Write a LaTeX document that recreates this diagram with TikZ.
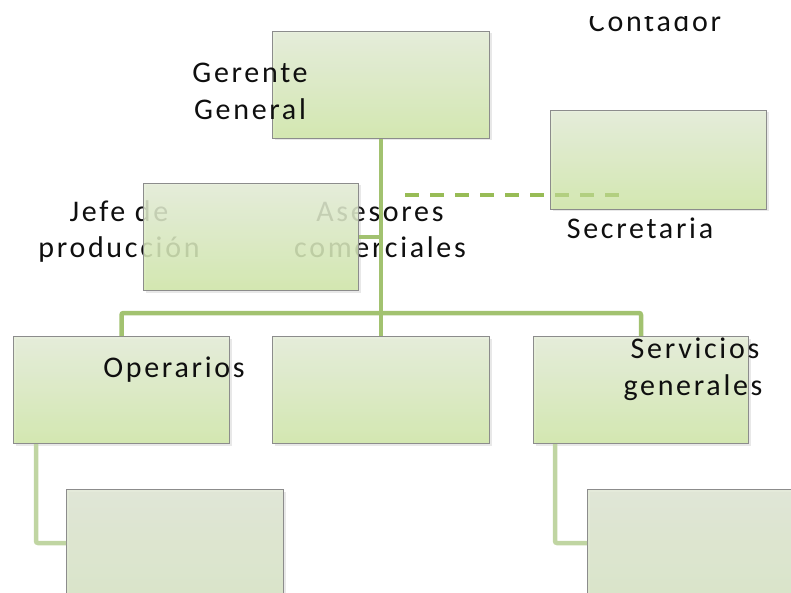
\documentclass[tikz,border=0pt]{standalone}
\usepackage{fontspec}
\setmainfont{Carlito}[LetterSpace=9]
\usetikzlibrary{shadows}

\definecolor{boxtop}{RGB}{228,236,216}
\definecolor{boxbot}{RGB}{208,231,168}
\definecolor{subtop}{RGB}{223,230,212}
\definecolor{subbot}{RGB}{215,227,196}
\definecolor{boxline}{RGB}{140,140,140}
\definecolor{linkgreen}{RGB}{162,194,112}
\definecolor{dashgreen}{RGB}{152,188,86}
\definecolor{sublink}{RGB}{192,213,162}
\definecolor{inktext}{RGB}{15,15,15}

\tikzset{
  orgbox/.style={draw=boxline, line width=1pt, top color=boxtop, bottom color=boxbot,
    fill opacity=0.86, inner sep=0pt, anchor=north west,
    minimum width=216pt, minimum height=107pt,
    drop shadow={opacity=0.18, shadow xshift=2pt, shadow yshift=-2pt}},
  subbox/.style={orgbox, top color=subtop, bottom color=subbot},
  link/.style={draw=linkgreen, line width=4.5pt, rounded corners=2pt},
  sublinkline/.style={draw=sublink, line width=4.5pt, rounded corners=2pt},
  dashlink/.style={draw=dashgreen, line width=4pt, dash pattern=on 14pt off 11pt},
  lbl/.style={font=\fontsize{30pt}{37pt}\selectfont, text=inktext, anchor=base, inner sep=0pt}
}

\begin{document}
\begin{tikzpicture}[x=1pt, y=-1pt]
\useasboundingbox (0,0) rectangle (791,593);

% assistant link (dashed)
\coordinate (dashL) at (405,195);
\coordinate (dashR) at (619,195);
\draw[dashlink] (dashL) -- (dashR);

% labels that sit beneath the translucent box
\node[lbl] (jefe1) at (119,222) {Jefe de};
\node[lbl] (jefe2) at (119,258) {producción};
\node[lbl] (ases1) at (380,222) {Asesores};
\node[lbl] (ases2) at (380,258) {comerciales};

% boxes
\node[orgbox, minimum width=217pt] (gerente) at (272,31) {};
\node[orgbox, minimum height=99pt] (secretaria) at (550,110) {};
\node[orgbox, minimum width=215pt] (jefe) at (143,183) {};
\node[orgbox] (operarios) at (13,336) {};
\node[orgbox, minimum width=217pt] (middle) at (272,336) {};
\node[orgbox, minimum width=215pt] (servicios) at (533,336) {};
\node[subbox, minimum width=217pt] (subleft) at (66,489) {};
\node[subbox, minimum width=217pt] (subright) at (587,489) {};

% dashes show faintly through the assistant box
\draw[dashlink, draw opacity=0.45] (dashL) -- (dashR);

% connectors
\coordinate (bar) at (380,313);
\draw[link] (gerente.south) -- (middle.north);
\draw[link] (jefe.east) -- (jefe.east -| gerente.south);
\draw[link] (operarios.north) |- (bar) -| (servicios.north);
\draw[sublinkline] ([xshift=23pt]operarios.south west) |- (subleft.west);
\draw[sublinkline] ([xshift=22pt]servicios.south west) |- (subright.west);

% labels on top
\begin{scope}
  \clip (0,16.5) rectangle (791,60);
  \node[lbl] (contador) at (655,32) {Contador};
\end{scope}
\node[lbl] (ger1) at (250,83) {Gerente};
\node[lbl] (ger2) at (250,120) {General};
\node[lbl] (secr) at (640,239) {Secretaria};
\node[lbl] (oper) at (174,377) {Operarios};
\node[lbl] (serv1) at (695,358) {Servicios};
\node[lbl] (serv2) at (693,395) {generales};
\end{tikzpicture}
\end{document}
